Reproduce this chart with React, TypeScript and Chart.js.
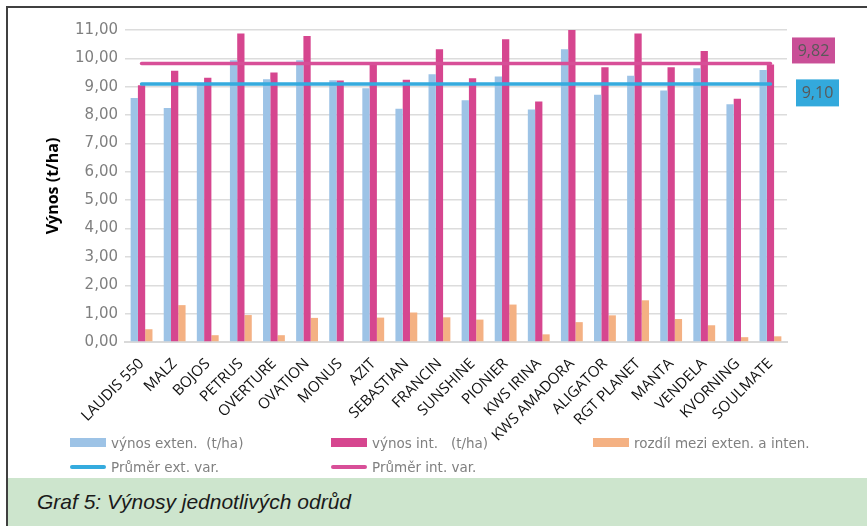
import React, { useEffect, useRef } from "react";
import { Chart, registerables } from "chart.js";

Chart.register(...registerables);

const categories = [
  "LAUDIS 550", "MALZ", "BOJOS", "PETRUS", "OVERTURE", "OVATION", "MONUS", "AZIT",
  "SEBASTIAN", "FRANCIN", "SUNSHINE", "PIONIER", "KWS IRINA", "KWS AMADORA",
  "ALIGATOR", "RGT PLANET", "MANTA", "VENDELA", "KVORNING", "SOULMATE",
];
const vynosExten = [8.60, 8.25, 9.08, 9.93, 9.26, 9.93, 9.23, 8.95, 8.22, 9.44, 8.52, 9.36, 8.20, 10.32, 8.72, 9.39, 8.87, 9.65, 8.38, 9.59];
const vynosInt = [9.05, 9.56, 9.32, 10.88, 9.50, 10.79, 9.22, 9.78, 9.25, 10.32, 9.30, 10.67, 8.48, 11.00, 9.69, 10.88, 9.69, 10.26, 8.58, 9.78];
const rozdil = [0.45, 1.30, 0.24, 0.95, 0.24, 0.85, 0.00, 0.86, 1.04, 0.87, 0.79, 1.32, 0.27, 0.70, 0.94, 1.47, 0.81, 0.59, 0.17, 0.20];
const prumerExt = 9.10;
const prumerInt = 9.82;
const yTicks = [0, 1, 2, 3, 4, 5, 6, 7, 8, 9, 10, 11];

const seriesLabels = [
  "výnos exten.  (t/ha)",
  "výnos int.   (t/ha)",
  "rozdíl mezi exten. a inten.",
  "Průměr ext. var.",
  "Průměr int. var.",
];
const colExt = "#9dc3e6";
const colInt = "#d6468f";
const colDiff = "#f4b183";
const colAvgExt = "#35abde";
const colAvgInt = "#d84f98";

const fmt = (v: number) => v.toFixed(2).replace(".", ",");

const valueBoxes = {
  id: "valueBoxes",
  afterDatasetsDraw(chart: any) {
    const { ctx, chartArea, scales } = chart;
    const y = scales.y;
    const boxes = [
      { v: prumerInt, fill: "#c94f97", dx: 5, dy: -26, w: 43, h: 26 },
      { v: prumerExt, fill: "#33a9dc", dx: 9, dy: -4.5, w: 43, h: 27 },
    ];
    ctx.save();
    boxes.forEach((b) => {
      const py = y.getPixelForValue(b.v);
      const left = chartArea.right + b.dx;
      const top = py + b.dy;
      ctx.fillStyle = b.fill;
      ctx.fillRect(left, top, b.w, b.h);
      ctx.fillStyle = "#595959";
      ctx.font = "16px 'Open Sans'";
      ctx.textAlign = "center";
      ctx.textBaseline = "middle";
      ctx.fillText(fmt(b.v), left + b.w / 2, top + b.h / 2 + 1);
    });
    ctx.restore();
  },
};

function ChartCanvas() {
  const ref = useRef<HTMLCanvasElement | null>(null);
  useEffect(() => {
    if (!ref.current) return;
    const chart = new Chart(ref.current, {
      type: "bar",
      data: {
        labels: categories,
        datasets: [
          {
            type: "line",
            label: seriesLabels[3],
            data: [
              { x: categories[0], y: prumerExt },
              { x: categories[categories.length - 1], y: prumerExt },
            ],
            borderColor: colAvgExt,
            borderWidth: 3.5,
            borderCapStyle: "round",
            pointRadius: 0,
            order: 0,
          } as any,
          {
            type: "line",
            label: seriesLabels[4],
            data: [
              { x: categories[0], y: prumerInt },
              { x: categories[categories.length - 1], y: prumerInt },
            ],
            borderColor: colAvgInt,
            borderWidth: 3.5,
            borderCapStyle: "round",
            pointRadius: 0,
            order: 0,
          } as any,
          { label: seriesLabels[0], data: vynosExten, backgroundColor: colExt, order: 1 },
          { label: seriesLabels[1], data: vynosInt, backgroundColor: colInt, order: 1 },
          { label: seriesLabels[2], data: rozdil, backgroundColor: colDiff, order: 1 },
        ],
      },
      options: {
        animation: false,
        responsive: false,
        maintainAspectRatio: false,
        datasets: { bar: { categoryPercentage: 0.66, barPercentage: 1.0 } },
        layout: { padding: { left: 0, right: 80, top: 22, bottom: 36 } },
        plugins: { legend: { display: false }, tooltip: { enabled: false } },
        scales: {
          x: {
            grid: { display: false, drawTicks: false },
            border: { color: "#d9d9d9", width: 2 },
            ticks: {
              autoSkip: false,
              minRotation: 45,
              maxRotation: 45,
              padding: 13,
              color: "#111",
              font: { family: "'Open Sans'", size: 15 },
            },
            afterFit: (s: any) => { s.height = 100; },
          },
          y: {
            min: 0,
            max: 11,
            afterBuildTicks: (s: any) => { s.ticks = yTicks.map((v) => ({ value: v })); },
            grid: { color: "#dcdcdc", lineWidth: 1.5, drawTicks: false },
            border: { display: false },
            ticks: {
              padding: 7,
              color: "#7f7f7f",
              font: { family: "'DejaVu Sans'", size: 15 },
              callback: (v: any) => fmt(Number(v)),
            },
            title: {
              display: true,
              text: "Výnos (t/ha)",
              color: "#000",
              font: { family: "'Open Sans'", size: 16, weight: "bold" },
              padding: { top: 36, bottom: 0 },
            },
            afterFit: (s: any) => { s.width = 117; },
          },
        },
      },
      plugins: [valueBoxes],
    });
    return () => chart.destroy();
  }, []);
  return (
    <canvas
      ref={ref}
      width={859}
      height={470}
      style={{ position: "absolute", left: 8, top: 8, width: 859, height: 470 }}
    />
  );
}

const legendBoxes = [
  { text: seriesLabels[0], color: colExt, kind: "box", x: 70, y: 442.5 },
  { text: seriesLabels[1], color: colInt, kind: "box", x: 331, y: 442.5 },
  { text: seriesLabels[2], color: colDiff, kind: "box", x: 593, y: 442.5 },
  { text: seriesLabels[3], color: colAvgExt, kind: "line", x: 70, y: 467 },
  { text: seriesLabels[4], color: colAvgInt, kind: "line", x: 331, y: 467 },
];

export default function App() {
  return (
    <div
      style={{
        position: "fixed",
        left: 0,
        top: 0,
        width: 867,
        height: 526,
        overflow: "hidden",
        background: "#fff",
      }}
    >
      <div
        style={{
          position: "absolute",
          left: 8,
          top: 478,
          width: 859,
          height: 48,
          background: "#cde5cd",
        }}
      >
        <span
          style={{
            position: "absolute",
            left: 29,
            top: 12,
            fontFamily: "'Liberation Sans', Arial, sans-serif",
            fontStyle: "italic",
            fontSize: 21,
            lineHeight: "24px",
            color: "#1a1a1a",
            whiteSpace: "pre",
          }}
        >
          Graf 5: Výnosy jednotlivých odrůd
        </span>
      </div>
      <div
        style={{
          position: "absolute",
          left: 6,
          top: 6,
          width: 900,
          height: 600,
          borderLeft: "2px solid #404040",
          borderTop: "2px solid #404040",
          boxSizing: "border-box",
        }}
      />
      <ChartCanvas />
      {legendBoxes.map((it, i) => (
        <div key={i}>
          <div
            style={{
              position: "absolute",
              left: it.x,
              top: it.kind === "box" ? it.y - 4.5 : it.y - 2,
              width: 36,
              height: it.kind === "box" ? 9 : 4,
              borderRadius: it.kind === "box" ? 0 : 2,
              background: it.color,
            }}
          />
          <span
            style={{
              position: "absolute",
              left: it.x + 41,
              top: it.y - 9,
              lineHeight: "18px",
              fontFamily: "'DejaVu Sans'",
              fontSize: 13.5,
              color: "#808080",
              whiteSpace: "pre",
            }}
          >
            {it.text}
          </span>
        </div>
      ))}
    </div>
  );
}
